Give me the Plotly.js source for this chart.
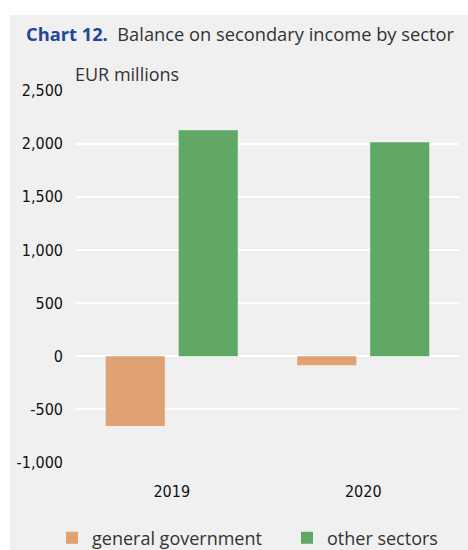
<!DOCTYPE html>
<html>
<head>
<meta charset="utf-8">
<script src="https://cdn.plot.ly/plotly-3.0.1.min.js"></script>
<style>
html,body{margin:0;padding:0;background:#ffffff;}
#chart{position:absolute;left:10px;top:15px;width:458px;height:535px;}
#chart .xtick text, #chart .ytick text{font-stretch:condensed;}
</style>
</head>
<body>
<div id="chart"></div>
<script>
var categories = ["2019", "2020"];
var generalGovernment = [-655, -85];
var otherSectors = [2125, 2012];
var seriesNames = ["general government", "other sectors"];
var yTickValues = [-1000, -500, 0, 500, 1000, 1500, 2000, 2500];
var yTickLabels = ["-1,000", "-500", "0", "500", "1,000", "1,500", "2,000", "2,500"];

var tickFont = {family: "DejaVu Sans Condensed, DejaVu Sans, sans-serif", size: 16, color: "#111111"};
var legendFont = {family: "Open Sans, sans-serif", size: 18, color: "#333333"};

var traces = [
  {type: "bar", name: seriesNames[0], x: categories, y: generalGovernment,
   marker: {color: "#e0a273"}, hoverinfo: "none", legend: "legend"},
  {type: "bar", name: seriesNames[1], x: categories, y: otherSectors,
   marker: {color: "#62a865"}, hoverinfo: "none", legend: "legend2"}
];

var layout = {
  width: 458, height: 535,
  paper_bgcolor: "#f0f0f0", plot_bgcolor: "#f0f0f0",
  margin: {l: 66, r: 9, t: 75, b: 87, autoexpand: false},
  barmode: "group", bargap: 0.238, bargroupgap: 0.19,
  showlegend: true,
  font: {family: "Open Sans, sans-serif", color: "#333333"},
  title: {
    text: "<b><span style='color:#22469a'>Chart 12.</span></b>  Balance on secondary income by sector",
    font: {family: "Open Sans, sans-serif", size: 18.3, color: "#333333"},
    x: 16/458, xref: "container", xanchor: "left",
    y: 1 - 20/535, yref: "container", yanchor: "middle"
  },
  xaxis: {
    type: "category", tickfont: tickFont, showgrid: false, zeroline: false,
    ticks: "outside", ticklen: 14, tickcolor: "rgba(0,0,0,0)", showline: false
  },
  yaxis: {
    range: [-1003, 2503], tickvals: yTickValues, ticktext: yTickLabels,
    tickfont: tickFont, showgrid: true, gridcolor: "#ffffff", gridwidth: 2,
    zeroline: true, zerolinecolor: "#ffffff", zerolinewidth: 2,
    ticks: "", ticklabelstandoff: 12, showline: false
  },
  legend: {
    orientation: "h", xref: "container", x: 42/458, xanchor: "left",
    yref: "container", y: 1 - 523/535, yanchor: "middle",
    font: legendFont, bgcolor: "rgba(0,0,0,0)", itemwidth: 30
  },
  legend2: {
    orientation: "h", xref: "container", x: 277/458, xanchor: "left",
    yref: "container", y: 1 - 523/535, yanchor: "middle",
    font: legendFont, bgcolor: "rgba(0,0,0,0)", itemwidth: 30
  },
  annotations: [
    {text: "EUR millions", xref: "paper", yref: "paper", x: 0, y: 1, xanchor: "left", yanchor: "bottom",
     xshift: -3, yshift: 2, showarrow: false, font: {family: "Open Sans, sans-serif", size: 18, color: "#333333"}}
  ]
};

Plotly.newPlot("chart", traces, layout, {displayModeBar: false, staticPlot: true});
</script>
</body>
</html>
